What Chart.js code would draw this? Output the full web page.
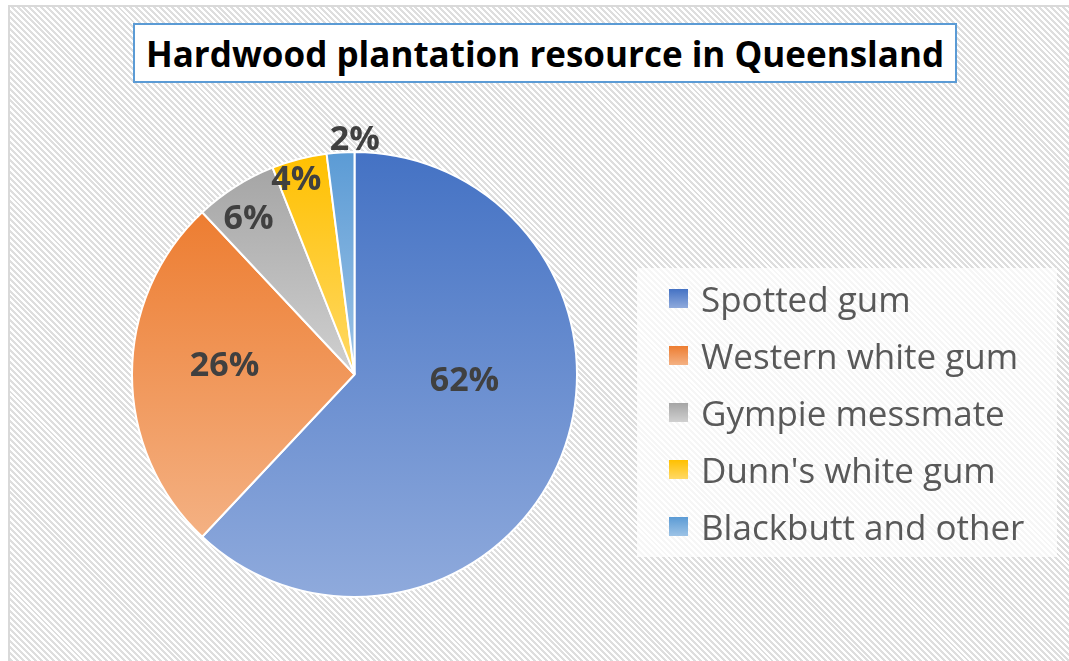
<!DOCTYPE html>
<html>
<head>
<meta charset="utf-8">
<script src="https://cdn.jsdelivr.net/npm/chart.js@4"></script>
<style>
    html, body { margin: 0; padding: 0; background: #fff; }
    #frame {
        position: absolute; left: 8px; top: 5px; width: 1080px; height: 680px;
        border-left: 2px solid #d9d9d9; border-top: 2px solid #d9d9d9;
        background: repeating-linear-gradient(45deg, #ffffff 0 2.1px, #dedede 2.1px 4.2px);
    }
    #title {
        position: absolute; left: 133px; top: 23px; width: 820px; height: 56px;
        border: 2px solid #5b9bd5; background: #fff;
        font: bold 35px "Open Sans", sans-serif; color: #000;
        display: flex; align-items: center; justify-content: center; white-space: nowrap;
    }
    #legend {
        position: absolute; left: 637px; top: 268px; width: 420px; height: 289px;
        background: rgba(255, 255, 255, 0.72);
    }
    .legend-item {
        position: absolute; left: 32px; height: 40px; display: flex; align-items: center;
        font: 35px "Open Sans", sans-serif; color: #595959; white-space: nowrap;
    }
    .legend-item .box { width: 19px; height: 19px; margin-right: 13px; }
    #wrap { position: absolute; left: 0; top: 0; width: 1069px; height: 661px; }
</style>
</head>
<body>
<div id="frame"></div>
<div id="wrap"><canvas id="pieChart"></canvas></div>
<div id="title">Hardwood plantation resource in Queensland</div>
<div id="legend"></div>
<script>
const species = ['Spotted gum', 'Western white gum', 'Gympie messmate', "Dunn's white gum", 'Blackbutt and other'];
const shares = [62, 26, 6, 4, 2];
const topColors = ['#4472c4', '#ed7d31', '#a5a5a5', '#ffc000', '#5b9bd5'];
const bottomColors = ['#8faadc', '#f4b183', '#d0d0d0', '#ffd966', '#9dc3e6'];

// label placement: angle shift from slice middle (deg) and fraction of radius
const labelShift = [-18.2, 3.7, -2.0, -2.3, 3.7];
const labelRadius = [0.495, 0.585, 0.843, 0.91, 1.053];

function sliceGradient(ctx) {
    const i = ctx.dataIndex;
    const chart = ctx.chart;
    const area = chart.chartArea;
    if (i === undefined || !area) return topColors[i || 0];
    const cx = (area.left + area.right) / 2;
    const cy = (area.top + area.bottom) / 2;
    const r = Math.min(area.width, area.height) / 2;
    const total = shares.reduce((a, b) => a + b, 0);
    const before = shares.slice(0, i).reduce((a, b) => a + b, 0);
    const start = -Math.PI / 2 + 2 * Math.PI * before / total;
    const end = start + 2 * Math.PI * shares[i] / total;
    const ys = [cy, cy + r * Math.sin(start), cy + r * Math.sin(end)];
    // include bottom / top of the circle when the slice passes them
    [Math.PI / 2, 3 * Math.PI / 2, -Math.PI / 2].forEach(a => {
        if (a >= start && a <= end) ys.push(cy + r * Math.sin(a));
    });
    const minY = Math.min(...ys), maxY = Math.max(...ys);
    const g = chart.ctx.createLinearGradient(0, minY, 0, maxY);
    g.addColorStop(0, topColors[i]);
    g.addColorStop(1, bottomColors[i]);
    return g;
}

const percentLabels = {
    id: 'percentLabels',
    afterDatasetsDraw(chart) {
        const ctx = chart.ctx;
        const arcs = chart.getDatasetMeta(0).data;
        ctx.save();
        ctx.font = 'bold 34px "Open Sans", sans-serif';
        ctx.fillStyle = '#404040';
        ctx.textAlign = 'center';
        ctx.textBaseline = 'middle';
        arcs.forEach((arc, i) => {
            const mid = (arc.startAngle + arc.endAngle) / 2 + labelShift[i] * Math.PI / 180;
            const r = arc.outerRadius * labelRadius[i];
            ctx.fillText(shares[i] + '%', arc.x + r * Math.cos(mid), arc.y + r * Math.sin(mid));
        });
        ctx.restore();
    }
};

const chart = new Chart(document.getElementById('pieChart'), {
    type: 'pie',
    data: {
        labels: species,
        datasets: [{
            data: shares,
            backgroundColor: sliceGradient,
            borderColor: '#ffffff',
            borderWidth: 2
        }]
    },
    options: {
        responsive: true,
        maintainAspectRatio: false,
        animation: false,
        layout: { padding: { left: 131, top: 151, right: 491, bottom: 63 } },
        plugins: {
            legend: { display: false },
            title: { display: false },
            tooltip: { enabled: false }
        }
    },
    plugins: [percentLabels]
});

function renderLegend() {
    const box = document.getElementById('legend');
    box.innerHTML = '';
    species.forEach((name, i) => {
        const item = document.createElement('div');
        item.className = 'legend-item';
        item.style.top = (10 + i * 57) + 'px';
        item.innerHTML = `<span class="box" style="background:linear-gradient(${topColors[i]}, ${bottomColors[i]})"></span>${name}`;
        box.appendChild(item);
    });
}
renderLegend();
</script>
</body>
</html>
